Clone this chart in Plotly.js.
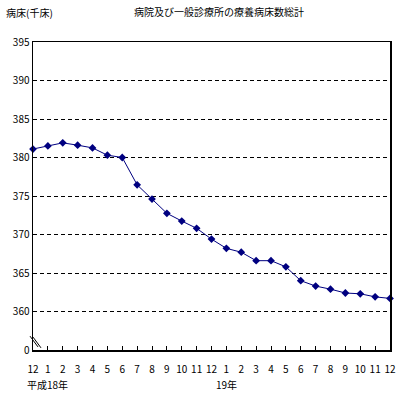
<!DOCTYPE html>
<html>
<head>
<meta charset="utf-8">
<script src="https://cdn.plot.ly/plotly-3.0.1.min.js"></script>
<style>html,body{margin:0;padding:0;background:#fff;}#chart{width:404px;height:395px;}</style>
</head>
<body>
<div id="chart"></div>
<script>
const monthLabels = ["12","1","2","3","4","5","6","7","8","9","10","11","12","1","2","3","4","5","6","7","8","9","10","11","12"];
const bedCounts = [381.1, 381.5, 381.9, 381.6, 381.25, 380.3, 380.0, 376.45, 374.6, 372.75, 371.75, 370.8, 369.4, 368.2, 367.7, 366.6, 366.6, 365.8, 364.0, 363.3, 362.9, 362.4, 362.3, 361.9, 361.7];
const yTickVals = [355, 360, 365, 370, 375, 380, 385, 390, 395];
const yTickText = ["0", "360", "365", "370", "375", "380", "385", "390", "395"];
const yearLabels = [{idx: 1, text: "平成18年"}, {idx: 13, text: "19年"}];
const titleText = "病院及び一般診療所の療養病床数総計";
const yUnitText = "病床(千床)";

const xIdx = monthLabels.map((_, i) => i);
const font = "Noto Sans CJK JP, sans-serif";

const trace = {
  x: xIdx,
  y: bedCounts,
  type: "scatter",
  mode: "lines+markers",
  line: {color: "#000080", width: 1},
  marker: {symbol: "diamond", size: 6, color: "#000080"},
  cliponaxis: false,
  hoverinfo: "skip"
};

const annotations = yearLabels.map(y => ({
  x: y.idx, xref: "x", y: 0, yref: "paper", yshift: -34,
  text: y.text, showarrow: false, xanchor: "center", yanchor: "middle",
  font: {family: font, size: 10, color: "#000"}
}));
annotations.push({
  x: 0, xref: "paper", xshift: -29, y: 1, yref: "paper", yshift: 30,
  text: yUnitText, showarrow: false, xanchor: "left", yanchor: "middle",
  font: {family: font, size: 10, color: "#000"}
});

const layout = {
  width: 404, height: 395,
  margin: {l: 33, r: 14, t: 42, b: 45},
  paper_bgcolor: "#fff", plot_bgcolor: "#fff",
  showlegend: false,
  title: {
    text: titleText, x: 219/404, xanchor: "center", y: 1 - 12/395, yanchor: "middle",
    font: {family: font, size: 10, color: "#000"}
  },
  xaxis: {
    range: [0, 24], tickvals: xIdx, ticktext: monthLabels,
    ticks: "inside", ticklen: 4, tickcolor: "#000",
    ticklabelstandoff: 9,
    showline: true, linecolor: "#000", linewidth: 1.5, mirror: true,
    showgrid: false, zeroline: false, fixedrange: true,
    tickfont: {family: font, size: 10, color: "#000"}
  },
  yaxis: {
    range: [355, 395], tickvals: yTickVals, ticktext: yTickText,
    ticks: "", showline: true, linecolor: "#000", linewidth: 1.5, mirror: true,
    showgrid: true, gridcolor: "#000", gridwidth: 1, griddash: "4px,3px",
    zeroline: false, fixedrange: true,
    tickfont: {family: font, size: 10, color: "#000"}
  },
  annotations: annotations,
  shapes: [
    {type: "line", xref: "paper", yref: "paper", x0: -0.0084, x1: 0.0140, y0: 0.045, y1: 0.010, line: {color: "#000", width: 1}},
    {type: "line", xref: "paper", yref: "paper", x0: 0.0000, x1: 0.0224, y0: 0.042, y1: 0.007, line: {color: "#000", width: 1}}
  ]
};

Plotly.newPlot("chart", [trace], layout, {displayModeBar: false, staticPlot: true});
</script>
</body>
</html>
